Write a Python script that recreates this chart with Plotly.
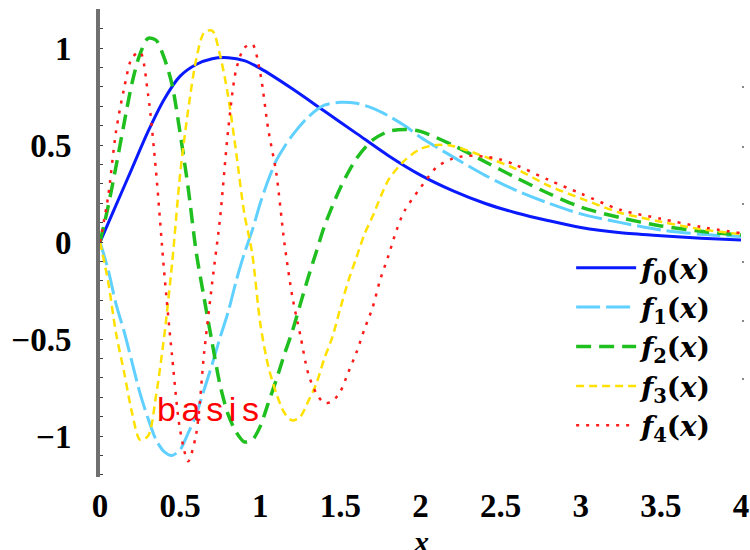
import plotly.graph_objects as go

# ---- data ----
x0 = [0, 0.1, 0.2, 0.3, 0.4, 0.5, 0.6, 0.7, 0.8, 0.9, 1.0, 1.2, 1.4, 1.6, 1.8, 2.0,
      2.2, 2.4, 2.6, 2.8, 3.0, 3.25, 3.5, 3.75, 4.0]
f0 = [0, 0.19, 0.38, 0.57, 0.735, 0.855, 0.915, 0.945, 0.95, 0.935, 0.895, 0.79, 0.675,
      0.56, 0.445, 0.345, 0.265, 0.20, 0.15, 0.11, 0.075, 0.048, 0.033, 0.02, 0.01]

x1 = [0, 0.05, 0.1, 0.15, 0.2, 0.25, 0.3, 0.35, 0.4, 0.45, 0.5, 0.55, 0.6, 0.65, 0.7,
      0.75, 0.8, 0.85, 0.9, 0.95, 1.0, 1.05, 1.1, 1.15, 1.2, 1.3, 1.4, 1.5, 1.6, 1.7,
      1.8, 1.9, 2.0, 2.2, 2.4, 2.6, 2.8, 3.0, 3.25, 3.5, 3.75, 4.0]
f1 = [0, -0.14, -0.32, -0.46, -0.62, -0.78, -0.91, -1.02, -1.08, -1.10, -1.07, -0.985,
      -0.89, -0.76, -0.63, -0.49, -0.36, -0.20, -0.06, 0.06, 0.20, 0.32, 0.42, 0.49,
      0.55, 0.645, 0.705, 0.72, 0.715, 0.69, 0.65, 0.60, 0.54, 0.44, 0.345, 0.265,
      0.20, 0.145, 0.10, 0.062, 0.04, 0.028]

x2 = [0, 0.05, 0.1, 0.15, 0.2, 0.25, 0.3, 0.35, 0.4, 0.45, 0.5, 0.55, 0.6, 0.65, 0.7,
      0.75, 0.8, 0.85, 0.9, 0.95, 1.0, 1.05, 1.1, 1.15, 1.2, 1.25, 1.3, 1.35, 1.4, 1.5,
      1.6, 1.7, 1.8, 1.9, 2.0, 2.2, 2.4, 2.6, 2.8, 3.0, 3.25, 3.5, 3.75, 4.0]
f2 = [0, 0.18, 0.39, 0.61, 0.82, 0.97, 1.05, 1.04, 0.95, 0.81, 0.56, 0.28, -0.05,
      -0.29, -0.52, -0.74, -0.89, -0.98, -1.03, -1.02, -0.95, -0.83, -0.71, -0.58,
      -0.46, -0.32, -0.18, -0.05, 0.08, 0.28, 0.43, 0.525, 0.57, 0.58, 0.57, 0.50,
      0.415, 0.33, 0.25, 0.18, 0.125, 0.083, 0.055, 0.036]

x3 = [0, 0.05, 0.1, 0.15, 0.2, 0.25, 0.3, 0.35, 0.4, 0.45, 0.5, 0.55, 0.6, 0.65, 0.7,
      0.75, 0.8, 0.85, 0.9, 0.95, 1.0, 1.05, 1.1, 1.15, 1.2, 1.25, 1.3, 1.35, 1.4, 1.45,
      1.5, 1.55, 1.6, 1.65, 1.7, 1.8, 1.9, 2.0, 2.1, 2.2, 2.4, 2.6, 2.8, 3.0, 3.25, 3.5,
      3.75, 4.0]
f3 = [0, -0.20, -0.47, -0.67, -0.88, -1.02, -1.00, -0.79, -0.49, -0.11, 0.35, 0.68,
      0.94, 1.08, 1.09, 0.96, 0.75, 0.46, 0.15, -0.06, -0.42, -0.64, -0.78, -0.88,
      -0.92, -0.90, -0.82, -0.73, -0.60, -0.49, -0.34, -0.20, -0.08, 0.04, 0.13, 0.32,
      0.42, 0.48, 0.50, 0.495, 0.44, 0.375, 0.29, 0.225, 0.15, 0.105, 0.066, 0.04]

x4 = [0, 0.05, 0.1, 0.15, 0.2, 0.25, 0.3, 0.35, 0.4, 0.45, 0.5, 0.55, 0.6, 0.65, 0.7,
      0.75, 0.8, 0.85, 0.9, 0.95, 1.0, 1.05, 1.1, 1.15, 1.2, 1.25, 1.3, 1.35, 1.4, 1.45,
      1.5, 1.55, 1.6, 1.65, 1.7, 1.75, 1.8, 1.85, 1.9, 2.0, 2.1, 2.2, 2.3, 2.4, 2.5,
      2.6, 2.8, 3.0, 3.25, 3.5, 3.75, 4.0]
f4 = [0, 0.23, 0.57, 0.79, 0.95, 0.98, 0.76, 0.36, -0.15, -0.59, -0.97, -1.13, -0.99,
      -0.57, -0.21, 0.13, 0.58, 0.89, 1.0, 1.02, 0.87, 0.58, 0.355, 0.0, -0.28, -0.48,
      -0.68, -0.78, -0.83, -0.82, -0.77, -0.67, -0.57, -0.45, -0.34, -0.19, -0.07,
      0.06, 0.16, 0.28, 0.385, 0.43, 0.445, 0.44, 0.425, 0.395, 0.32, 0.25, 0.165,
      0.12, 0.078, 0.046]

names = ["<i>f</i><sub>0</sub>(<i>x</i>)", "<i>f</i><sub>1</sub>(<i>x</i>)",
         "<i>f</i><sub>2</sub>(<i>x</i>)", "<i>f</i><sub>3</sub>(<i>x</i>)",
         "<i>f</i><sub>4</sub>(<i>x</i>)"]
x_ticks = [0, 0.5, 1, 1.5, 2, 2.5, 3, 3.5, 4]
x_tick_text = ["0", "0.5", "1", "1.5", "2", "2.5", "3", "3.5", "4"]
y_ticks = [-1, -0.5, 0, 0.5, 1]
y_tick_text = ["\u22121", "\u22120.5", "0", "0.5", "1"]
right_ticks = [0.80, 0.49, 0.196, -0.103, -0.407, -0.706]

styles = [
    dict(color="#0a1aff", width=3, dash="solid"),
    dict(color="#5fd0ff", width=3, dash="24px,6px"),
    dict(color="#1fbf1f", width=3.5, dash="15px,8px"),
    dict(color="#ffe100", width=2.5, dash="8px,5px"),
    dict(color="#ff1a1a", width=2.5, dash="3px,7px"),
]

fig = go.Figure()
for xs, ys, nm, st in zip([x0, x1, x2, x3, x4], [f0, f1, f2, f3, f4], names, styles):
    fig.add_trace(go.Scatter(x=xs, y=ys, mode="lines", name=nm,
                             line=dict(shape="spline", smoothing=0.8, **st)))

# invisible helper trace for the right-hand tick dots
fig.add_trace(go.Scatter(x=[0], y=[0], yaxis="y2", mode="markers",
                         marker=dict(opacity=0), showlegend=False, hoverinfo="skip"))

serif = "Liberation Serif"
yr = [-1.211, 1.201]
fig.update_layout(
    width=750, height=550, autosize=False,
    margin=dict(l=100, r=9, t=9, b=73, autoexpand=False),
    paper_bgcolor="white", plot_bgcolor="white",
    xaxis=dict(range=[0, 4], showgrid=False, zeroline=False, showline=False,
               automargin=False,
               tickvals=x_ticks, ticktext=x_tick_text, ticks="",
               tickfont=dict(family=serif, size=33, color="black", weight="bold"),
               ticklabelstandoff=6),
    yaxis=dict(range=yr, showgrid=False, zeroline=False, showline=True,
               automargin=False,
               linecolor="#707070", linewidth=4,
               tickvals=y_ticks, ticktext=y_tick_text, ticks="inside", ticklen=3,
               tickwidth=1, tickcolor="#404040",
               minor=dict(dtick=0.1, tick0=0, ticks="inside", ticklen=3,
                          tickwidth=1, tickcolor="#404040"),
               ticklabelstandoff=18,
               tickfont=dict(family=serif, size=33, color="black", weight="bold")),
    yaxis2=dict(range=yr, overlaying="y", side="right", showgrid=False, zeroline=False,
                automargin=False,
                showline=False, tickvals=right_ticks, ticks="outside", ticklen=2,
                tickwidth=2, tickcolor="#888888", showticklabels=False),
    legend=dict(x=0.735, y=0.50, xanchor="left", yanchor="top",
                bgcolor="rgba(0,0,0,0)", itemwidth=60,
                font=dict(family="DejaVu Serif", size=28, color="black", weight="bold")),
    annotations=[
        dict(x=0.671, y=-0.86, xref="x", yref="y", showarrow=False,
             text="b\u2006a\u2006s\u2006i\u2006s",
             font=dict(family="Liberation Sans", size=34, color="#ff0000"),
             xanchor="center", yanchor="middle"),
        dict(x=0.5, y=-0.137, xref="paper", yref="paper", showarrow=False,
             text="<i>x</i>",
             font=dict(family=serif, size=30, color="black", weight="bold"),
             xanchor="center", yanchor="middle"),
    ],
)

fig.write_html("out.html", config={"displayModeBar": False},
               post_script="document.body.style.margin='0px';")
